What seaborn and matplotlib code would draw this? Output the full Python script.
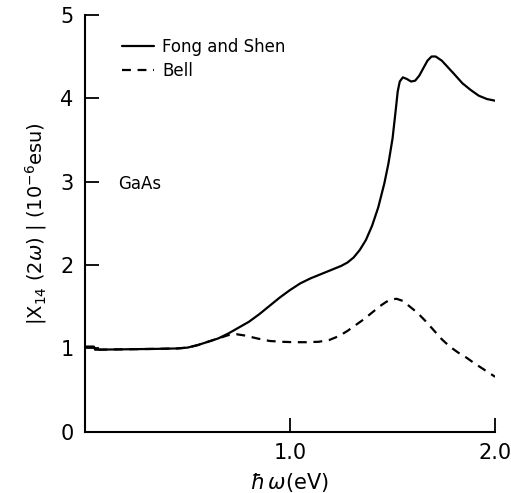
import matplotlib
matplotlib.use("Agg")
import matplotlib.pyplot as plt
import pandas as pd
import seaborn as sns

# photon energy (eV) and |chi_14(2w)| (1e-6 esu)
fong_energy = [0.0, 0.045, 0.05, 0.2, 0.35, 0.45, 0.5, 0.55, 0.6, 0.65, 0.7, 0.75,
               0.8, 0.85, 0.9, 0.95, 1.0, 1.05, 1.1, 1.15, 1.2, 1.25, 1.28, 1.31,
               1.34, 1.37, 1.40, 1.43, 1.46, 1.48, 1.50, 1.515, 1.525, 1.535,
               1.55, 1.57, 1.59, 1.61, 1.63, 1.65, 1.67, 1.69, 1.71, 1.74, 1.77,
               1.80, 1.84, 1.88, 1.92, 1.96, 2.0]
fong_chi = [1.02, 1.02, 0.985, 0.99, 0.995, 1.0, 1.01, 1.04, 1.08, 1.12, 1.18, 1.25,
            1.32, 1.41, 1.51, 1.61, 1.70, 1.78, 1.84, 1.89, 1.94, 1.99, 2.03, 2.09,
            2.18, 2.30, 2.47, 2.69, 2.98, 3.22, 3.52, 3.85, 4.08, 4.20,
            4.25, 4.23, 4.20, 4.21, 4.27, 4.36, 4.45, 4.50, 4.50, 4.45, 4.37,
            4.29, 4.18, 4.10, 4.03, 3.99, 3.97]

bell_energy = [0.0, 0.045, 0.05, 0.2, 0.35, 0.45, 0.5, 0.55, 0.6, 0.65, 0.7, 0.74,
               0.78, 0.84, 0.9, 0.96, 1.02, 1.08, 1.14, 1.19, 1.24, 1.28, 1.32,
               1.36, 1.40, 1.44, 1.47, 1.50, 1.52, 1.55, 1.58, 1.62, 1.66, 1.70,
               1.74, 1.78, 1.82, 1.86, 1.90, 1.95, 2.0]
bell_chi = [1.02, 1.02, 0.985, 0.99, 0.995, 1.0, 1.01, 1.04, 1.08, 1.12, 1.16, 1.17,
            1.155, 1.12, 1.09, 1.08, 1.075, 1.075, 1.08, 1.10, 1.15, 1.21, 1.28,
            1.35, 1.43, 1.51, 1.56, 1.59, 1.595, 1.57, 1.51, 1.43, 1.33, 1.22,
            1.11, 1.02, 0.95, 0.89, 0.82, 0.74, 0.66]

df = pd.concat([
    pd.DataFrame({"energy": fong_energy, "chi": fong_chi, "source": "Fong and Shen"}),
    pd.DataFrame({"energy": bell_energy, "chi": bell_chi, "source": "Bell"}),
])

sns.set_style("ticks", {"text.color": "black", "axes.labelcolor": "black"})
plt.rcParams["font.family"] = ["DejaVu Sans"]

fig = plt.figure(figsize=(5.11, 4.93), dpi=100)
ax = fig.add_axes([0.166, 0.124, 0.803, 0.846])

sns.lineplot(data=df[df["source"] == "Fong and Shen"], x="energy", y="chi",
             color="black", linewidth=1.6, ax=ax, label="Fong and Shen")
sns.lineplot(data=df[df["source"] == "Bell"], x="energy", y="chi",
             color="black", linewidth=1.6, linestyle=(0, (4, 3)), ax=ax, label="Bell")

ax.set_xlim(0, 2.0)
ax.set_ylim(0, 5)
ax.set_xticks([1.0, 2.0])
ax.set_xticklabels(["1.0", "2.0"])
ax.set_yticks([0, 1, 2, 3, 4, 5])
ax.tick_params(direction="in", length=10, width=1.3, labelsize=15, colors="black", pad=8)
for side in ["top", "right"]:
    ax.spines[side].set_visible(False)
for side in ["left", "bottom"]:
    ax.spines[side].set_linewidth(1.5)
    ax.spines[side].set_color("black")

ax.set_xlabel(r"$\hbar\,\omega$(eV)", fontsize=15, labelpad=6, color="black")
ax.set_ylabel(r"$|$X$_{14}$ (2$\omega$) $|$ (10$^{-6}$esu)", fontsize=14, labelpad=8,
              color="black")

ax.text(0.16, 2.97, "GaAs", fontsize=12, va="center", color="black")

leg = ax.legend(loc="upper left", bbox_to_anchor=(0.055, 0.98), frameon=False,
                fontsize=12, handlelength=1.9, handletextpad=0.5, labelspacing=0.35)
for t in leg.get_texts():
    t.set_color("black")

fig.savefig("out.png", dpi=100)
